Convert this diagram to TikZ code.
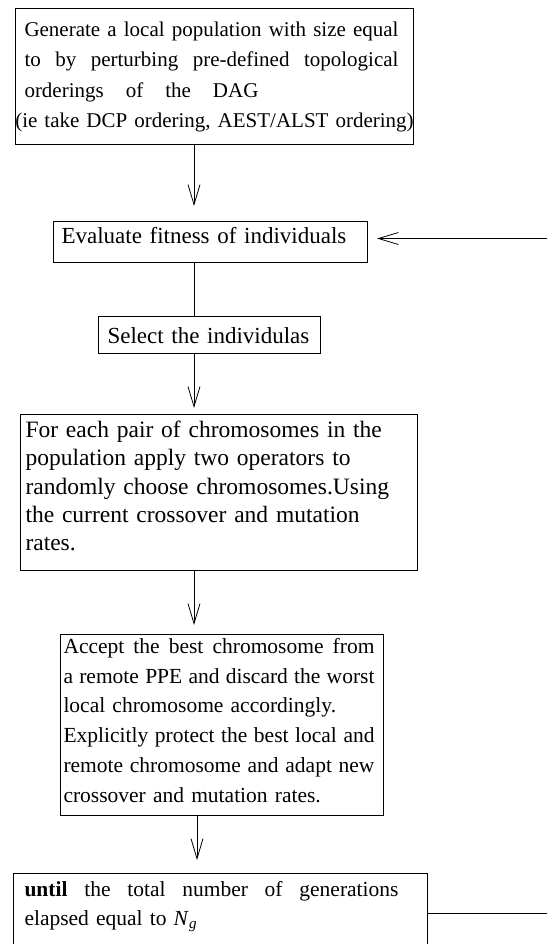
\documentclass[tikz,border=0pt]{standalone}
\usepackage{fontspec}
\setmainfont{Liberation Serif}
\usetikzlibrary{arrows.meta,calc,positioning}

\newcommand{\fillto}[2]{\leavevmode\hbox to #1{\spaceskip=.25em plus 1fil\relax #2}}

\begin{document}
\begin{tikzpicture}[x=1pt, y=-1pt,
  stepbox/.style={draw, line width=1pt, anchor=north west, align=left, inner ysep=0pt},
  flow/.style={line width=0.8pt, -{Straight Barb[length=20pt, width=12pt]}},
  link/.style={line width=0.8pt}]
  \useasboundingbox (0,0) rectangle (547,944);
  \clip (0,0) rectangle (547,944);
  % steps of the loop
  \node[stepbox, inner xsep=9pt, text width=380pt, text height=28pt, text depth=108pt,
        font=\fontsize{21}{30.3}\selectfont] (init) at (15,8) {%
    \fillto{374pt}{Generate a local population with size equal}\\
    \fillto{374pt}{to by perturbing pre-defined topological}\\
    \fillto{234pt}{orderings of the DAG}\\
    \makebox[380pt][c]{(ie take DCP ordering, AEST/ALST ordering)}};
  \node[stepbox, inner xsep=8pt, text width=298pt, text height=22pt, text depth=19pt,
        font=\fontsize{23}{27.6}\selectfont] (eval) at (53,221) {Evaluate fitness of individuals};
  \node[stepbox, inner xsep=9pt, text width=204pt, text height=27pt, text depth=10pt,
        font=\fontsize{23}{27.6}\selectfont] (select) at (98,316) {Select the individulas};
  \node[stepbox, inner xsep=5pt, text width=387pt, text height=23pt, text depth=133pt,
        font=\fontsize{23.5}{28.3}\selectfont] (cross) at (20,414) {%
    For each pair of chromosomes in the\\
    population apply two operators to\\
    randomly choose chromosomes.Using\\
    the current crossover and mutation\\
    rates.};
  \node[stepbox, inner xsep=3pt, text width=317pt, text height=19pt, text depth=162pt,
        font=\fontsize{21.5}{29.7}\selectfont] (accept) at (60,634) {%
    \fillto{311pt}{Accept the best chromosome from}\\
    \fillto{311pt}{a remote PPE and discard the worst}\\
    local chromosome accordingly.\\
    \fillto{311pt}{Explicitly protect the best local and}\\
    \fillto{311pt}{remote chromosome and adapt new}\\
    crossover and mutation rates.};
  \node[stepbox, inner xsep=11pt, text width=392pt, text height=23pt, text depth=100pt,
        font=\fontsize{21.5}{28.5}\selectfont] (until) at (13,873) {%
    \fillto{374pt}{\textbf{until} the total number of generations}\\
    elapsed equal to \textit{N}\textsubscript{\textit{g}}};
  % connectors
  \coordinate (spine) at (194,0);
  \coordinate (spineb) at (197,0);
  \draw[flow, shorten >=15pt] (init.south -| spine) -- (eval.north -| spine);
  \draw[link] (eval.south -| spine) -- (select.north -| spine);
  \draw[flow, shorten >=6pt] (select.south -| spine) -- (cross.north -| spine);
  \draw[flow, shorten >=9pt] (cross.south -| spine) -- (accept.north -| spine);
  \draw[flow, shorten >=13pt] (accept.south -| spineb) -- (until.north -| spineb);
  % back to evaluation
  \draw[flow, shorten >=9pt] ([yshift=-40pt]until.north east) -- ++(130,0) |- ([yshift=3.5pt]eval.east);
\end{tikzpicture}
\end{document}
